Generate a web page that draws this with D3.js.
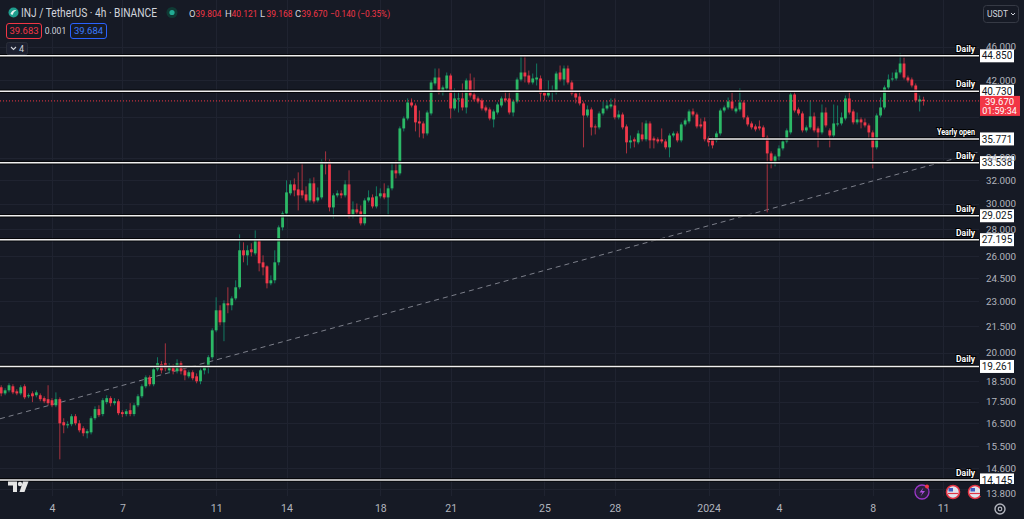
<!DOCTYPE html>
<html>
<head>
<meta charset="utf-8">
<script src="https://cdn.jsdelivr.net/npm/d3@7"></script>
<style>
  html, body { margin: 0; padding: 0; background: #161a25; overflow: hidden; }
  svg { display: block; font-family: Roboto, "Noto Sans", "DejaVu Sans", sans-serif; }
</style>
</head>
<body>
<svg id="chart" width="1024" height="519"></svg>
<script>
// INJ / TetherUS, 4h candles, Dec 1 2023 20:00 -> Jan 10 2024 04:00 (UTC)
const opens = [
  18.20, 17.90, 18.05, 18.25, 18.00, 17.90, 18.25, 17.76, 17.90, 17.81,
  17.81, 17.67, 17.62, 17.57, 17.33, 17.62, 16.55, 16.41, 16.46, 16.82,
  16.50, 16.28, 16.06, 16.10, 16.73, 17.15, 16.92, 17.48, 17.67, 17.43,
  17.52, 17.01, 16.92, 17.10, 16.92, 17.33, 17.76, 18.25, 18.70, 18.35,
  19.11, 19.38, 19.43, 19.06, 19.27, 19.01, 19.43, 19.06, 18.75, 18.96,
  18.75, 18.50, 19.06, 19.22, 19.75, 21.25, 22.44, 21.72, 22.87, 22.75,
  23.18, 23.89, 26.42, 26.06, 26.49, 26.20, 27.15, 25.57, 25.29, 24.15,
  24.35, 25.57, 28.12, 29.21, 30.85, 31.61, 31.18, 31.10, 30.76, 30.26,
  31.70, 30.26, 30.51, 33.65, 33.65, 29.69, 30.68, 30.85, 30.68, 31.61,
  28.97, 29.53, 29.37, 28.43, 30.26, 30.51, 29.77, 30.60, 30.85, 30.51,
  31.27, 32.84, 32.57, 36.81, 37.82, 39.50, 39.18, 37.52, 37.31, 36.31,
  38.34, 41.60, 42.28, 40.59, 41.04, 42.51, 38.86, 39.83, 39.94, 38.97,
  41.94, 40.37, 39.94, 39.72, 38.97, 38.76, 37.72, 38.44, 39.18, 39.94,
  39.94, 38.44, 39.61, 42.05, 42.86, 42.51, 41.71, 42.05, 42.17, 40.59,
  40.26, 40.70, 40.59, 42.86, 42.05, 43.33, 41.71, 40.48, 40.15, 39.40,
  38.13, 38.76, 37.01, 36.91, 38.34, 38.86, 39.07, 39.18, 37.93, 38.23,
  37.01, 35.44, 35.73, 35.44, 36.21, 35.73, 37.31, 35.82, 35.73, 35.73,
  35.53, 34.96, 36.11, 36.31, 35.63, 37.21, 37.52, 38.55, 38.23, 37.21,
  37.52, 35.82, 35.73, 35.63, 36.31, 38.65, 38.97, 39.61, 38.55, 38.76,
  39.50, 37.93, 37.31, 37.01, 37.01, 36.91, 35.92, 34.39, 33.56, 34.11,
  34.86, 35.53, 36.41, 40.37, 38.76, 38.34, 36.61, 36.91, 38.03, 36.81,
  36.41, 38.44, 36.61, 36.11, 37.21, 37.31, 37.82, 39.94, 38.55, 37.42,
  37.72, 37.42, 37.11, 36.41, 34.96, 38.13, 38.97, 41.15, 42.05, 42.17,
  42.86, 43.92, 42.28, 42.05, 41.37, 39.61, 39.804
];
const highs = [
  18.30, 18.15, 18.40, 18.35, 18.10, 18.30, 18.35, 17.90, 18.00, 18.05,
  17.90, 17.76, 18.30, 17.67, 17.95, 17.71, 16.73, 16.59, 16.92, 16.92,
  16.64, 16.37, 16.24, 16.82, 17.28, 17.33, 17.67, 17.81, 17.76, 17.67,
  17.62, 17.10, 17.15, 17.43, 17.43, 17.86, 18.35, 18.80, 18.80, 19.27,
  19.75, 19.54, 20.51, 19.43, 19.38, 19.64, 19.54, 19.16, 19.06, 19.06,
  18.90, 19.16, 19.32, 19.86, 21.37, 23.25, 22.75, 23.06, 23.89, 23.31,
  24.35, 27.59, 27.00, 26.78, 26.93, 27.89, 27.30, 26.06, 25.36, 24.68,
  26.42, 28.27, 29.37, 31.96, 31.96, 32.13, 32.66, 33.56, 31.44, 32.13,
  32.22, 31.35, 33.83, 34.58, 33.83, 30.85, 31.10, 31.10, 31.96, 32.84,
  30.18, 30.01, 29.85, 30.43, 31.10, 30.76, 31.44, 31.27, 31.70, 31.52,
  33.56, 33.74, 37.01, 38.03, 39.94, 39.94, 39.40, 38.65, 37.52, 38.65,
  41.94, 43.33, 43.33, 41.37, 42.86, 42.74, 41.04, 40.81, 41.60, 42.17,
  42.74, 42.28, 40.15, 39.94, 39.18, 38.97, 38.76, 39.50, 40.15, 40.81,
  40.81, 39.83, 42.28, 44.89, 44.89, 43.09, 42.74, 43.92, 42.51, 40.81,
  41.94, 41.37, 42.98, 43.68, 43.68, 43.68, 41.94, 40.70, 40.81, 39.61,
  39.18, 38.97, 37.21, 38.55, 39.61, 39.72, 39.94, 39.94, 38.65, 38.44,
  37.21, 36.11, 35.92, 36.61, 37.42, 37.62, 37.52, 36.01, 35.92, 36.81,
  35.73, 36.31, 36.51, 36.51, 37.42, 37.82, 38.76, 38.86, 38.44, 37.82,
  37.93, 36.01, 35.92, 36.51, 38.86, 39.18, 40.04, 40.59, 39.07, 41.04,
  39.72, 38.13, 37.52, 37.21, 37.62, 37.11, 36.11, 34.58, 34.29, 35.15,
  35.73, 36.81, 40.70, 40.70, 38.97, 38.55, 37.11, 39.72, 38.44, 37.01,
  39.29, 38.97, 36.81, 39.29, 39.18, 38.44, 40.26, 40.81, 38.76, 38.44,
  37.93, 37.82, 37.31, 36.61, 38.34, 40.04, 41.37, 42.63, 42.86, 43.21,
  45.13, 44.64, 42.51, 42.28, 41.60, 40.26, 40.121
];
const lows = [
  17.76, 17.81, 17.95, 17.86, 17.81, 17.81, 17.62, 17.67, 17.48, 17.71,
  17.52, 17.43, 17.33, 17.24, 17.24, 14.96, 16.06, 16.28, 16.37, 16.41,
  16.10, 15.93, 15.84, 16.01, 16.64, 16.78, 16.82, 17.38, 17.28, 17.33,
  16.87, 16.78, 16.82, 16.82, 16.82, 17.24, 17.67, 18.15, 18.25, 18.25,
  19.01, 18.90, 19.01, 18.90, 18.85, 18.90, 18.85, 18.55, 18.65, 18.55,
  18.40, 18.35, 18.85, 18.90, 19.64, 21.14, 21.54, 20.63, 22.26, 22.44,
  23.06, 23.76, 25.57, 25.36, 25.99, 26.06, 24.95, 24.68, 23.82, 24.02,
  24.15, 25.36, 27.89, 29.05, 30.68, 30.60, 29.45, 30.43, 30.10, 30.10,
  30.01, 30.10, 30.35, 32.48, 29.37, 28.82, 30.51, 30.43, 30.51, 28.82,
  28.82, 29.13, 28.27, 28.27, 30.10, 29.61, 29.61, 30.43, 30.35, 28.97,
  31.10, 32.13, 32.39, 36.51, 37.62, 38.97, 36.51, 35.92, 35.82, 36.11,
  38.13, 41.37, 40.37, 40.26, 40.81, 37.82, 38.65, 38.44, 38.65, 38.34,
  40.04, 39.61, 39.40, 38.65, 38.44, 37.62, 36.91, 38.23, 38.97, 39.50,
  38.23, 38.03, 39.40, 41.83, 41.71, 41.48, 41.48, 41.37, 39.72, 39.72,
  40.04, 39.72, 40.37, 41.83, 41.37, 41.48, 40.26, 39.40, 39.18, 34.96,
  37.93, 36.11, 36.21, 36.71, 38.13, 38.65, 38.86, 37.72, 37.72, 36.71,
  34.39, 34.86, 34.96, 35.25, 35.53, 35.53, 34.86, 34.86, 35.34, 35.34,
  34.77, 34.02, 35.92, 35.44, 35.44, 37.01, 37.31, 38.03, 36.81, 36.81,
  35.53, 35.05, 34.86, 35.44, 36.11, 38.44, 38.76, 38.65, 38.34, 38.55,
  37.72, 37.01, 36.71, 36.51, 36.61, 35.73, 29.29, 33.02, 33.20, 33.74,
  34.67, 35.34, 36.21, 38.44, 38.13, 36.41, 36.41, 36.71, 36.41, 34.96,
  36.21, 36.91, 34.96, 35.92, 37.01, 37.11, 37.62, 38.23, 37.21, 37.21,
  36.81, 36.91, 35.82, 33.02, 34.77, 37.93, 38.76, 40.92, 41.83, 41.94,
  42.63, 42.05, 41.71, 41.15, 39.50, 38.55, 39.168
];
const closes = [
  17.90, 18.05, 18.30, 17.95, 17.90, 18.20, 17.71, 17.81, 17.76, 17.95,
  17.62, 17.52, 17.43, 17.33, 17.62, 16.50, 16.41, 16.46, 16.82, 16.50,
  16.19, 16.06, 16.15, 16.73, 17.15, 16.87, 17.57, 17.67, 17.43, 17.52,
  16.96, 16.92, 17.05, 16.92, 17.33, 17.76, 18.25, 18.70, 18.35, 19.11,
  19.43, 19.06, 19.16, 19.27, 19.01, 19.43, 19.01, 18.80, 18.96, 18.65,
  18.50, 19.06, 19.22, 19.75, 21.25, 22.44, 21.72, 22.87, 22.75, 23.18,
  23.89, 26.42, 26.06, 26.42, 26.28, 27.15, 25.50, 25.22, 24.15, 24.35,
  25.57, 28.12, 29.21, 30.93, 31.61, 31.10, 30.68, 30.68, 30.26, 31.70,
  30.18, 30.51, 33.65, 33.47, 29.69, 30.68, 30.85, 30.68, 31.61, 28.97,
  29.53, 29.29, 28.43, 30.26, 30.51, 29.77, 30.60, 30.85, 30.51, 31.27,
  32.84, 32.57, 36.81, 37.82, 39.50, 39.18, 37.42, 37.31, 36.31, 38.44,
  41.71, 42.28, 40.59, 41.15, 42.51, 38.86, 39.94, 39.94, 38.97, 41.94,
  40.26, 39.83, 39.61, 38.86, 38.65, 37.82, 38.55, 39.29, 39.94, 39.72,
  38.44, 39.61, 42.05, 42.86, 42.40, 41.71, 42.17, 42.28, 40.48, 40.26,
  40.81, 40.81, 42.74, 42.05, 43.33, 41.71, 40.48, 40.04, 39.40, 38.13,
  38.76, 36.91, 36.91, 38.34, 38.86, 39.18, 39.29, 37.93, 38.23, 36.91,
  35.44, 35.63, 35.53, 36.31, 35.73, 37.31, 35.63, 35.63, 35.53, 35.53,
  34.96, 36.11, 36.31, 35.63, 37.21, 37.62, 38.55, 38.23, 37.01, 37.01,
  35.73, 35.44, 35.15, 36.31, 38.65, 38.97, 39.61, 38.86, 38.86, 39.50,
  37.93, 37.21, 36.91, 36.71, 36.81, 35.92, 34.39, 33.65, 34.11, 34.86,
  35.53, 36.61, 40.37, 38.65, 38.34, 36.61, 36.91, 38.03, 36.61, 36.41,
  38.44, 37.11, 36.11, 37.31, 37.31, 37.93, 39.94, 38.44, 37.42, 37.72,
  37.42, 37.11, 36.41, 34.96, 38.13, 38.97, 41.15, 42.05, 42.17, 42.86,
  43.92, 42.28, 41.94, 41.37, 39.72, 39.83, 39.670
];
const barStart = Date.UTC(2023, 11, 1, 20);
const barStep = 4 * 3600 * 1000;

// 38.000 sits under the last-price tag in the reference, so it is left out
const priceTicks = [46, 42, 34, 32, 30, 28, 26, 24.5, 23, 21.5, 20, 18.5, 17.5, 16.5, 15.5, 14.6, 13.8];
const gridPrices = [46, 42, 38, 34, 32, 30, 28, 26, 24.5, 23, 21.5, 20, 18.5, 17.5, 16.5, 15.5, 14.6, 13.8];
const timeTicks = [
  Date.UTC(2023, 11, 4), Date.UTC(2023, 11, 7), Date.UTC(2023, 11, 11), Date.UTC(2023, 11, 14),
  Date.UTC(2023, 11, 18), Date.UTC(2023, 11, 21), Date.UTC(2023, 11, 25), Date.UTC(2023, 11, 28),
  Date.UTC(2024, 0, 1), Date.UTC(2024, 0, 4), Date.UTC(2024, 0, 8), Date.UTC(2024, 0, 11)
];
const timeTickLabels = ["4", "7", "11", "14", "18", "21", "25", "28", "2024", "4", "8", "11"];

const levelPrices = [44.850, 40.730, 35.771, 33.538, 29.025, 27.195, 19.261, 14.145];
const levelLabels = ["Daily", "Daily", "Yearly open", "Daily", "Daily", "Daily", "Daily", "Daily"];
const levelStarts = [null, null, Date.UTC(2024, 0, 1), null, null, null, null, null];

const trendTimes = [Date.UTC(2023, 11, 1, 20), Date.UTC(2024, 0, 10, 4)];
const trendPrices = [16.72, 33.13];

const lastPrice = 39.670;
const countdown = "01:59:34";
const legendKeys = ["O", "H", "L", "C"];
const legendValues = ["39.804", "40.121", "39.168", "39.670"];
const legendChange = "\u22120.140 (\u22120.35%)";
const bidAsk = ["39.683", "0.001", "39.684"];

// ---- layout ----
const W = 1024, H = 519;
const plotRight = 979, plotBottom = 496;
const upBody = "#2cb866", upWick = "#127a62";
const downBody = "#f0384a", downWick = "#a8323f";
const fmt = d3.format(".3f");

const svg = d3.select("#chart");
svg.append("rect").attr("width", W).attr("height", H).attr("fill", "#161a25");

const x = d3.scaleUtc()
  .domain([Date.UTC(2023, 11, 1, 18, 47), Date.UTC(2024, 0, 12, 12, 44)])
  .range([0, plotRight]);
const y = d3.scaleLog().domain([13.8, 46]).range([489, 46.5]);

// grid
const grid = svg.append("g");
grid.selectAll("line.h").data(gridPrices).join("line")
  .attr("x1", 0).attr("x2", plotRight)
  .attr("y1", d => Math.round(y(d)) + 0.5).attr("y2", d => Math.round(y(d)) + 0.5)
  .attr("stroke", "#1f2330");
grid.selectAll("line.v").data(timeTicks).join("line")
  .attr("x1", d => Math.round(x(d)) + 0.5).attr("x2", d => Math.round(x(d)) + 0.5)
  .attr("y1", 0).attr("y2", plotBottom)
  .attr("stroke", "#1f2330");

// dashed trend line, extended across the plot in pixel space
const tx0 = x(trendTimes[0]), ty0 = y(trendPrices[0]);
const tx1 = x(trendTimes[1]), ty1 = y(trendPrices[1]);
const slope = (ty1 - ty0) / (tx1 - tx0);
svg.append("line")
  .attr("x1", 0).attr("y1", ty0 - slope * tx0)
  .attr("x2", plotRight).attr("y2", ty0 + slope * (plotRight - tx0))
  .attr("stroke", "#7c7f8a").attr("stroke-width", 1).attr("stroke-dasharray", "5,4");

// candles
const bars = d3.range(opens.length).map(i => ({
  t: barStart + i * barStep, o: opens[i], h: highs[i], l: lows[i], c: closes[i]
}));
const candle = svg.append("g").selectAll("g").data(bars).join("g");
candle.append("line")
  .attr("x1", d => x(d.t)).attr("x2", d => x(d.t))
  .attr("y1", d => y(d.h)).attr("y2", d => y(d.l))
  .attr("stroke", d => d.c >= d.o ? upWick : downWick).attr("stroke-width", 1);
candle.append("rect")
  .attr("x", d => x(d.t) - 1.4).attr("width", 2.8)
  .attr("y", d => y(Math.max(d.o, d.c)))
  .attr("height", d => Math.max(1, Math.abs(y(d.o) - y(d.c))))
  .attr("fill", d => d.c >= d.o ? upBody : downBody);

// current price dotted line
svg.append("line")
  .attr("x1", 0).attr("x2", plotRight)
  .attr("y1", y(lastPrice)).attr("y2", y(lastPrice))
  .attr("stroke", "#f23645").attr("stroke-width", 1).attr("stroke-dasharray", "1,2");

// horizontal levels
const levels = levelPrices.map((p, i) => ({ p, label: levelLabels[i], start: levelStarts[i] }));
const lv = svg.append("g").selectAll("g").data(levels).join("g");
lv.append("line")
  .attr("x1", d => d.start ? x(d.start) : 0).attr("x2", plotRight)
  .attr("y1", d => y(d.p)).attr("y2", d => y(d.p))
  .attr("stroke", "#000").attr("stroke-opacity", 0.75).attr("stroke-width", 3.6);
lv.append("line")
  .attr("x1", d => d.start ? x(d.start) : 0).attr("x2", plotRight)
  .attr("y1", d => y(d.p)).attr("y2", d => y(d.p))
  .attr("stroke", "#f0f0f0").attr("stroke-width", 1.5);

// price axis
const yAxis = svg.append("g").attr("transform", `translate(${plotRight},0)`)
  .call(d3.axisRight(y).tickValues(priceTicks).tickFormat(fmt).tickSize(0).tickPadding(7));
yAxis.select(".domain").remove();
yAxis.selectAll("text").attr("fill", "#b2b5be").attr("font-size", 9.8)
  .attr("font-family", "Roboto, 'Noto Sans', sans-serif");

// time axis
const xAxis = svg.append("g").attr("transform", `translate(0,${plotBottom})`)
  .call(d3.axisBottom(x).tickValues(timeTicks).tickFormat((d, i) => timeTickLabels[i]).tickSize(0).tickPadding(9));
xAxis.select(".domain").remove();
xAxis.selectAll("text").attr("fill", "#b2b5be").attr("font-size", 10.5)
  .attr("font-family", "Roboto, 'Noto Sans', sans-serif");

// bottom-right flags sit under the price scale
[953, 975].forEach(cx => {
  svg.append("circle").attr("cx", cx).attr("cy", 492).attr("r", 6.5).attr("fill", "#e0e3eb").attr("stroke", "#e33343").attr("stroke-width", 1.6);
  svg.append("rect").attr("x", cx - 4.5).attr("y", 488).attr("width", 4.5).attr("height", 3.5).attr("fill", "#3b5bbf");
  svg.append("line").attr("x1", cx - 5).attr("x2", cx + 5).attr("y1", 493.5).attr("y2", 493.5).attr("stroke", "#e33343").attr("stroke-width", 1.2);
});
svg.append("rect").attr("x", 980).attr("y", 484).attr("width", 44).attr("height", 12).attr("fill", "#161a25");
svg.append("text").attr("x", 986).attr("y", 496.5).attr("font-size", 9.8).attr("fill", "#b2b5be").text(fmt(13.8));

// level labels and price boxes
lv.append("text")
  .attr("x", 975).attr("y", d => y(d.p) - 4)
  .attr("text-anchor", "end").attr("font-size", 8.5).attr("font-weight", "bold")
  .attr("fill", "#fff")
  .attr("textLength", d => d.label === "Daily" ? 19 : 38).attr("lengthAdjust", "spacingAndGlyphs")
  .attr("stroke", "#000").attr("stroke-width", 2).attr("paint-order", "stroke")
  .text(d => d.label);
lv.append("rect")
  .attr("x", 980).attr("y", d => y(d.p) - 6.5).attr("width", 34).attr("height", 13)
  .attr("fill", "#fff");
lv.append("text")
  .attr("x", 997).attr("y", d => y(d.p) + 3.6).attr("text-anchor", "middle")
  .attr("font-size", 10).attr("fill", "#131722")
  .text(d => fmt(d.p));

// last price box
const ly = y(lastPrice);
svg.append("rect").attr("x", 980).attr("y", ly - 5).attr("width", 40).attr("height", 20)
  .attr("fill", "#f23645");
svg.append("text").attr("x", 999.5).attr("y", ly + 4).attr("text-anchor", "middle")
  .attr("font-size", 9.5).attr("fill", "#fff").text(fmt(lastPrice));
svg.append("text").attr("x", 999.5).attr("y", ly + 13.5).attr("text-anchor", "middle")
  .attr("font-size", 9).attr("fill", "#fff").text(countdown);

// ---- legend (top-left) ----
const lg = svg.append("g");
lg.append("circle").attr("cx", 13.5).attr("cy", 12.5).attr("r", 5).attr("fill", "#1f9d8e");
lg.append("path").attr("d", "M10.5,14 Q12,9.5 16.5,10 Q13.5,11.5 12.5,15 Z").attr("fill", "#e8f4f2");
lg.append("text").attr("x", 21).attr("y", 17).attr("font-size", 12).attr("fill", "#d1d4dc")
  .attr("textLength", 136).attr("lengthAdjust", "spacingAndGlyphs")
  .text("INJ / TetherUS \u00b7 4h \u00b7 BINANCE");
lg.append("circle").attr("cx", 172).attr("cy", 12.5).attr("r", 5.5).attr("fill", "#0f3a34");
lg.append("circle").attr("cx", 172).attr("cy", 12.5).attr("r", 2.6).attr("fill", "#22ab94");
const keyX = [189, 225, 260, 295];
legendKeys.forEach((k, i) => {
  lg.append("text").attr("x", keyX[i]).attr("y", 16.5).attr("font-size", 9.5).attr("fill", "#d1d4dc").text(k);
  lg.append("text").attr("x", keyX[i] + 6.5).attr("y", 16.5).attr("font-size", 9.5).attr("fill", "#f23645")
    .attr("textLength", 26).attr("lengthAdjust", "spacingAndGlyphs").text(legendValues[i]);
});
lg.append("text").attr("x", 330).attr("y", 16.5).attr("font-size", 9.5).attr("fill", "#f23645")
  .attr("textLength", 60).attr("lengthAdjust", "spacingAndGlyphs").text(legendChange);

lg.append("rect").attr("x", 6.5).attr("y", 23.5).attr("width", 35).attr("height", 15).attr("rx", 2.5)
  .attr("fill", "#161a25").attr("stroke", "#f23645");
lg.append("text").attr("x", 24).attr("y", 34.3).attr("text-anchor", "middle").attr("font-size", 9.5)
  .attr("fill", "#f23645").text(bidAsk[0]);
lg.append("text").attr("x", 55.5).attr("y", 34.3).attr("text-anchor", "middle").attr("font-size", 8.5)
  .attr("fill", "#d1d4dc").text(bidAsk[1]);
lg.append("rect").attr("x", 70.5).attr("y", 23.5).attr("width", 36).attr("height", 15).attr("rx", 2.5)
  .attr("fill", "#161a25").attr("stroke", "#2962ff");
lg.append("text").attr("x", 88.5).attr("y", 34.3).attr("text-anchor", "middle").attr("font-size", 9.5)
  .attr("fill", "#3a7bff").text(bidAsk[2]);

lg.append("rect").attr("x", 6.5).attr("y", 42.5).attr("width", 21).attr("height", 12).attr("rx", 2)
  .attr("fill", "#1c2030").attr("stroke", "#2a2e39");
lg.append("path").attr("d", "M11,47 L13.5,49.5 L16,47").attr("fill", "none").attr("stroke", "#d1d4dc").attr("stroke-width", 1.1);
lg.append("text").attr("x", 19).attr("y", 52).attr("font-size", 9).attr("fill", "#d1d4dc").text("4");

// currency button
svg.append("rect").attr("x", 983.5).attr("y", 5.5).attr("width", 35).attr("height", 17).attr("rx", 3)
  .attr("fill", "#161a25").attr("stroke", "#363a45");
svg.append("text").attr("x", 987).attr("y", 17.2).attr("font-size", 8.5).attr("fill", "#d1d4dc").text("USDT");
svg.append("path").attr("d", "M1011,13 L1013,15 L1015,13").attr("fill", "none").attr("stroke", "#d1d4dc");

// bottom icons
svg.append("path").attr("d", "M8,481.5 H17 V492 H13 V485.5 H8 Z").attr("fill", "#e6e6e6");
svg.append("circle").attr("cx", 20).attr("cy", 484).attr("r", 2.2).attr("fill", "#e6e6e6");
svg.append("path").attr("d", "M23,481.5 H28.5 L24.5,492 H19.5 Z").attr("fill", "#e6e6e6");

svg.append("circle").attr("cx", 922).attr("cy", 492).attr("r", 7).attr("fill", "#2a1f3d").attr("stroke", "#9c37c8").attr("stroke-width", 1.3);
svg.append("path").attr("d", "M923.5,487.5 L919.5,492.5 H922.5 L920.5,496.5 L925,491 H922 Z").attr("fill", "#b04fe0");
svg.append("circle").attr("cx", 927).attr("cy", 486.5).attr("r", 2).attr("fill", "#f23645");

svg.append("circle").attr("cx", 1000).attr("cy", 509).attr("r", 5).attr("fill", "none").attr("stroke", "#b2b5be").attr("stroke-width", 1.4);
svg.append("circle").attr("cx", 1000).attr("cy", 509).attr("r", 1.8).attr("fill", "none").attr("stroke", "#b2b5be").attr("stroke-width", 1.2);
</script>
</body>
</html>
